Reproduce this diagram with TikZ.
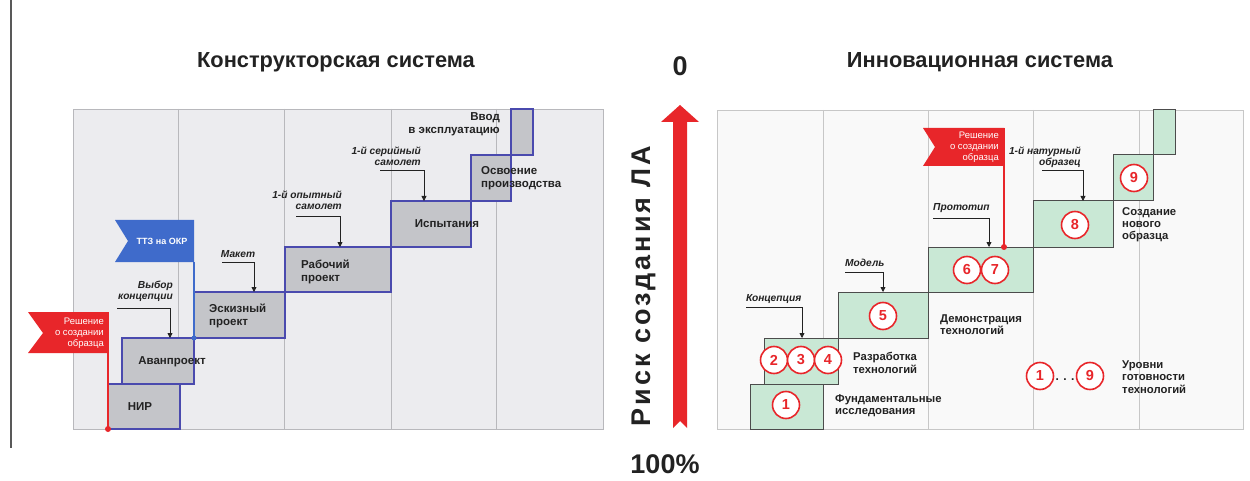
\documentclass[tikz,border=0pt]{standalone}
\usepackage{fontspec}
\setmainfont{Liberation Sans}
\newfontfamily\spacedfont[LetterSpace=11]{Liberation Sans}
\usetikzlibrary{arrows.meta}
\definecolor{boxgray}{HTML}{C4C5C9}
\definecolor{boxblue}{HTML}{4A4AAE}
\definecolor{flagred}{HTML}{E8262A}
\definecolor{flagblue}{HTML}{3F6BCB}
\definecolor{boxgreen}{HTML}{C9E8D5}
\definecolor{gridgray}{HTML}{B8B8BC}
\definecolor{panelL}{HTML}{ECECEF}
\definecolor{panelR}{HTML}{F9F9F9}
\definecolor{txt}{HTML}{222222}
\begin{document}
\begin{tikzpicture}[x=1pt,y=-1pt,
  gbox/.style={draw=boxblue, line width=1.3pt, fill=boxgray, anchor=north west, inner sep=0pt, outer sep=0pt},
  grbox/.style={draw=black!70, line width=1pt, fill=boxgreen, anchor=north west, inner sep=0pt, outer sep=0pt},
  lbl/.style={font=\bfseries\fontsize{11.5}{13}\selectfont, text=txt, align=left, inner sep=0pt},
  rlbl/.style={font=\bfseries\fontsize{11.3}{12.2}\selectfont, text=txt, align=left, inner sep=0pt, anchor=west},
  annot/.style={font=\bfseries\itshape\fontsize{10.2}{11}\selectfont, text=txt, inner sep=0pt},
  annline/.style={draw=txt, line width=0.8pt, -{Triangle[length=5pt,width=5pt]}},
  flagtxt/.style={font=\fontsize{9.5}{11}\selectfont, text=white, align=right, inner sep=0pt, anchor=east},
  lvl/.style={circle, draw=flagred, line width=1.6pt, fill=white, minimum size=27pt, inner sep=0pt,
    font=\bfseries\fontsize{14.5}{14.5}\selectfont, text=flagred},
  title/.style={font=\bfseries\fontsize{21.8}{23}\selectfont, text=txt, inner sep=0pt},
  big/.style={font=\bfseries\fontsize{27}{27}\selectfont, text=txt, inner sep=0pt}
]
\useasboundingbox (0,0) rectangle (1250,481);
\fill[white] (0,0) rectangle (1250,481);
\draw[black!65, line width=1.2pt] (11,0) -- (11,448);

% titles
\node[title] (tL) at (336,62) {Конструкторская система};
\node[title] (tR) at (980,62) {Инновационная система};

% ---------- left panel ----------
\draw[gridgray, fill=panelL, line width=0.6pt] (73,109) rectangle (603,429);
\foreach \gx in {178,284,391,496} \draw[gridgray, line width=0.6pt] (\gx,109) -- (\gx,429);

\node[gbox, minimum width=72pt, minimum height=45pt] (nir) at (108,384) {};
\node[gbox, minimum width=72pt, minimum height=46pt] (avan) at (122,338) {};
\node[gbox, minimum width=91pt, minimum height=46pt] (eskiz) at (194,292) {};
\node[gbox, minimum width=106pt, minimum height=45pt] (rab) at (285,247) {};
\node[gbox, minimum width=80pt, minimum height=46pt] (isp) at (391,201) {};
\node[gbox, minimum width=40pt, minimum height=46pt] (osv) at (471,155) {};
\node[gbox, minimum width=22pt, minimum height=46pt] (vvod) at (511,109) {};

\node[lbl] (lnir) at (140,407) {НИР};
\node[lbl] (lavan) at (172,362) {Аванпроект};
\node[lbl, anchor=west] (leskiz) at (209,316) {Эскизный\\проект};
\node[lbl, anchor=west] (lrab) at (301,272) {Рабочий\\проект};
\node[lbl] (lisp) at (447,224) {Испытания};
\node[lbl, anchor=west] (losv) at (481,178) {Освоение\\производства};
\node[lbl, anchor=east, align=right] (lvvod) at (500,124) {Ввод\\в эксплуатацию};

% annotations left
\node[annot, anchor=east, align=right] (a1) at (173,291) {Выбор\\концепции};
\coordinate (a1s) at (117,308);
\draw[annline] (a1s) -| ([xshift=48pt]avan.north west);
\node[annot] (a2) at (238,254) {Макет};
\coordinate (a2s) at (222,262);
\draw[annline] (a2s) -| ([xshift=60pt]eskiz.north west);
\node[annot, anchor=east, align=right] (a3) at (342,200) {1-й опытный\\самолет};
\coordinate (a3s) at (296,216);
\draw[annline] (a3s) -| ([xshift=55pt]rab.north west);
\node[annot, anchor=east, align=right] (a4) at (421,156) {1-й серийный\\самолет};
\coordinate (a4s) at (380,170);
\draw[annline] (a4s) -| ([xshift=33pt]isp.north west);

% blue flag
\fill[flagblue] (115,220) -- (194,220) -- (194,262) -- (115,262) -- (128,241) -- cycle;
\node[font=\bfseries\fontsize{9}{10}\selectfont, text=white, inner sep=0pt] (tz) at (162,241) {ТТЗ на ОКР};
\draw[flagblue, line width=1.3pt] (194,262) -- (eskiz.south west);
\fill[flagblue] (eskiz.south west) circle (2.5);

% red flag left
\fill[flagred] (28,312) -- (108,312) -- (108,353) -- (28,353) -- (43,333) -- cycle;
\node[flagtxt] (fl1) at (104,333) {Решение\\о создании\\образца};
\draw[flagred, line width=1.3pt] (108,312) -- (nir.south west);
\fill[flagred] (nir.south west) circle (3);

% ---------- center ----------
\node[big] (zero) at (680,66) {0};
\node[big] (hund) at (665,464) {100\%};
\fill[flagred] (673,428) -- (673,122) -- (661,122) -- (680,105) -- (699,122) -- (687,122) -- (687,428) -- (680,421) -- cycle;
\node[font=\spacedfont\bfseries\fontsize{27}{27}\selectfont, text=txt, rotate=90, inner sep=0pt] (risk) at (644,286) {Риск создания ЛА};

% ---------- right panel ----------
\draw[black!22, fill=panelR, line width=0.6pt] (717,110) rectangle (1243,429);
\foreach \gx in {823,928,1033,1139} \draw[black!22, line width=0.6pt] (\gx,110) -- (\gx,429);

\node[grbox, minimum width=73pt, minimum height=45pt] (f1) at (750,384) {};
\node[grbox, minimum width=74pt, minimum height=46pt] (f2) at (764,338) {};
\node[grbox, minimum width=90pt, minimum height=46pt] (f3) at (838,292) {};
\node[grbox, minimum width=105pt, minimum height=45pt] (f4) at (928,247) {};
\node[grbox, minimum width=80pt, minimum height=46pt] (f5) at (1033,201) {};
\node[grbox, minimum width=40pt, minimum height=46pt] (f6) at (1113,155) {};
\node[grbox, minimum width=22pt, minimum height=45pt] (f7) at (1153,110) {};

\node[lvl] (c1) at (786,405) {1};
\node[lvl] (c2) at (774,360) {2};
\node[lvl] (c3) at (801,360) {3};
\node[lvl] (c4) at (828,360) {4};
\node[lvl] (c5) at (883,316) {5};
\node[lvl] (c6) at (967,270) {6};
\node[lvl] (c7) at (995,270) {7};
\node[lvl] (c8) at (1075,225) {8};
\node[lvl] (c9) at (1134,178) {9};
\node[lvl] (lg1) at (1040,376) {1};
\node[lvl] (lg9) at (1090,376) {9};
\node[font=\bfseries\fontsize{12}{12}\selectfont, text=txt, inner sep=0pt] (dots) at (1065,380) {. . .};

\node[rlbl] (r1) at (835,406) {Фундаментальные\\исследования};
\node[rlbl] (r2) at (853,363) {Разработка\\технологий};
\node[rlbl] (r3) at (940,325) {Демонстрация\\технологий};
\node[rlbl] (r4) at (1122,225) {Создание\\нового\\образца};
\node[rlbl] (r5) at (1122,377) {Уровни\\готовности\\технологий};

% annotations right
\node[annot, anchor=west] (b1) at (746,299) {Концепция};
\coordinate (b1s) at (746,307);
\draw[annline] (b1s) -| ([xshift=38pt]f2.north west);
\node[annot, anchor=west] (b2) at (845,263) {Модель};
\coordinate (b2s) at (845,272);
\draw[annline] (b2s) -| ([xshift=45pt]f3.north west);
\node[annot, anchor=west] (b3) at (933,208) {Прототип};
\coordinate (b3s) at (933,218);
\draw[annline] (b3s) -| ([xshift=61pt]f4.north west);
\node[annot, anchor=east, align=right] (b4) at (1081,157) {1-й натурный\\образец};
\coordinate (b4s) at (1042,170);
\draw[annline] (b4s) -| ([xshift=50pt]f5.north west);

% red flag right
\fill[flagred] (923,128) -- (1004,128) -- (1004,166) -- (923,166) -- (935,147) -- cycle;
\node[flagtxt] (fl2) at (999,147) {Решение\\о создании\\образца};
\coordinate (fr) at ([xshift=76pt]f4.north west);
\draw[flagred, line width=1.3pt] (1004,128) -- (fr);
\fill[flagred] (fr) circle (3);
\end{tikzpicture}
\end{document}
